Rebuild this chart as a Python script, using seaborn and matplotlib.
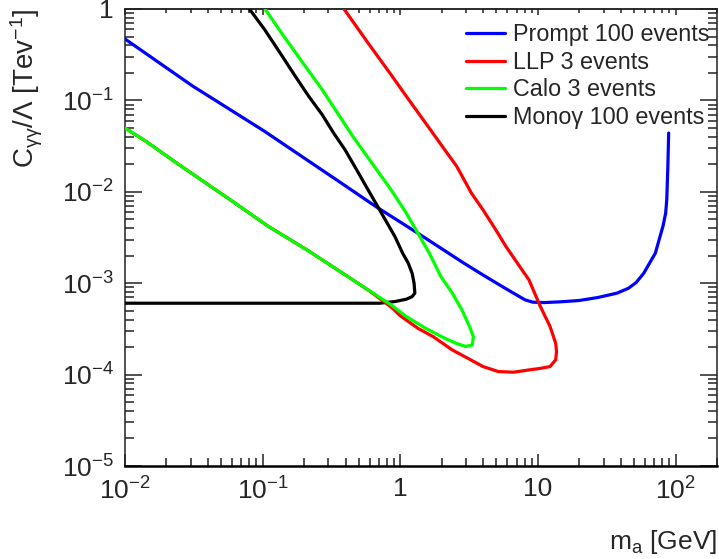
import numpy as np
import pandas as pd
import matplotlib
matplotlib.use("Agg")
import matplotlib.pyplot as plt
import seaborn as sns
from matplotlib.lines import Line2D
from matplotlib.ticker import FixedLocator, NullFormatter, FixedFormatter

sns.set_theme(style="ticks")
plt.rcParams["font.family"] = ["Liberation Sans", "DejaVu Sans"]
plt.rcParams["mathtext.fontset"] = "custom"
plt.rcParams["mathtext.rm"] = "Liberation Sans"
plt.rcParams["mathtext.it"] = "Liberation Sans:italic"
plt.rcParams["mathtext.bf"] = "Liberation Sans:bold"
plt.rcParams["mathtext.default"] = "regular"

# ---------------- data ----------------
prompt_mass = [0.01, 0.0307, 0.1035, 0.373, 0.664, 1.343, 2.90, 3.99, 5.50, 6.65, 8.07, 9.17,
               11.1, 14.4, 19.8, 27.2, 37.5, 45.5, 51.7, 58.7, 64.7, 71.3, 75.9, 80.9, 84.7,
               86.3, 87.9, 89.1]
prompt_c = [0.47, 0.145, 0.0458, 0.01245, 0.0069, 0.00352, 0.001656, 0.00123, 0.00092,
            0.000778, 0.000657, 0.00062, 0.000614, 0.000625, 0.000646, 0.000697, 0.000778,
            0.000881, 0.001016, 0.001285, 0.001656, 0.00213, 0.00298, 0.00417, 0.00583,
            0.00817, 0.0189, 0.0439]

llp_mass = [0.39, 0.583, 0.857, 1.107, 1.528, 2.104, 2.57, 3.289, 3.990, 4.831, 5.861, 7.096,
            8.610, 10.42, 12.25, 13.46, 13.65, 13.46, 12.25, 10.42, 8.61, 6.65, 5.15, 3.99, 3.09,
            2.388, 1.734, 1.343, 1.0, 0.857, 0.583, 0.350, 0.2094, 0.1104, 0.0582, 0.02377,
            0.01422, 0.01]
llp_c = [1.0, 0.425, 0.191, 0.1107, 0.0565, 0.0288, 0.019, 0.00966, 0.00635, 0.00405, 0.00252,
         0.001656, 0.001086, 0.000556, 0.000336, 0.00022, 0.000179, 0.000145, 0.0001225,
         0.000117, 0.0001125, 0.0001062, 0.000108, 0.0001225, 0.000151, 0.000186, 0.00026,
         0.000321, 0.00044, 0.00055, 0.000845, 0.0014, 0.00232, 0.00417, 0.00817, 0.0206,
         0.0356, 0.0498]

calo_mass = [0.104, 0.1426, 0.1963, 0.271, 0.350, 0.452, 0.622, 0.857, 1.107, 1.343, 1.626,
             1.972, 2.388, 2.805, 3.184, 3.396, 3.334, 2.992, 2.547, 2.104, 1.528, 1.107, 0.857,
             0.583, 0.350, 0.2094, 0.1104, 0.0582, 0.02377, 0.01422, 0.01]
calo_c = [1.0, 0.502, 0.2564, 0.131, 0.0726, 0.0404, 0.0206, 0.01052, 0.00583, 0.00352, 0.00213,
          0.001183, 0.000778, 0.00051, 0.000336, 0.00026, 0.000211, 0.000203, 0.00022, 0.00025,
          0.000321, 0.000431, 0.00058, 0.000845, 0.0014, 0.00232, 0.00417, 0.00817, 0.0206,
          0.0356, 0.0498]

mono_mass = [0.0802, 0.1035, 0.134, 0.173, 0.2163, 0.271, 0.328, 0.397, 0.482, 0.583, 0.6855,
             0.8035, 0.914, 1.04, 1.143, 1.219, 1.259, 1.276, 1.219, 1.107, 0.914, 0.708, 0.01]
mono_c = [1.0, 0.594, 0.33, 0.183, 0.1107, 0.0697, 0.0439, 0.0288, 0.0174, 0.01052, 0.0069,
          0.00454, 0.00324, 0.00213, 0.001656, 0.001285, 0.001, 0.000778, 0.000714, 0.000668,
          0.00063, 0.000604, 0.000604]

series_names = ["Prompt 100 events", "LLP 3 events", "Calo 3 events", "Mono\u03b3 100 events"]
series_colors = ["#0000ff", "#ff0000", "#00ff00", "#000000"]
x_tick_values = [0.01, 0.1, 1, 10, 100]
x_tick_labels = [r"$10^{-2}$", r"$10^{-1}$", "1", "10", r"$10^{2}$"]
y_tick_values = [1e-5, 1e-4, 1e-3, 1e-2, 1e-1, 1]
y_tick_labels = [r"$10^{-5}$", r"$10^{-4}$", r"$10^{-3}$", r"$10^{-2}$", r"$10^{-1}$", "1"]

frames = []
for name, m, c in zip(series_names,
                      [prompt_mass, llp_mass, calo_mass, mono_mass],
                      [prompt_c, llp_c, calo_c, mono_c]):
    frames.append(pd.DataFrame({"mass": m, "coupling": c, "series": name,
                                "idx": np.arange(len(m))}))
df = pd.concat(frames, ignore_index=True)

# ---------------- figure ----------------
W, H = 719, 559
fig = plt.figure(figsize=(W / 100, H / 100), dpi=100)
L, R, T, B = 125, 717, 9, 466
ax = fig.add_axes([L / W, 1 - B / H, (R - L) / W, (B - T) / H])
ax.set_xscale("log")
ax.set_yscale("log")

lw = 2.3
draw_order = [0, 3, 1, 2]
for i in draw_order:
    name = series_names[i]
    sub = df[df["series"] == name]
    sns.lineplot(data=sub, x="mass", y="coupling", sort=False, estimator=None,
                 color=series_colors[i], linewidth=lw, ax=ax, legend=False,
                 solid_joinstyle="round", zorder=3 + draw_order.index(i))

ax.set_xlim(0.01, 200)
ax.set_ylim(1e-5, 1)

# ticks
minor_x = [k * 10.0 ** e for e in range(-2, 3) for k in range(2, 10) if k * 10.0 ** e <= 200]
minor_y = [k * 10.0 ** e for e in range(-5, 0) for k in range(2, 10)]
ax.xaxis.set_major_locator(FixedLocator(x_tick_values))
ax.xaxis.set_major_formatter(FixedFormatter(x_tick_labels))
ax.xaxis.set_minor_locator(FixedLocator(minor_x))
ax.xaxis.set_minor_formatter(NullFormatter())
ax.yaxis.set_major_locator(FixedLocator(y_tick_values))
ax.yaxis.set_major_formatter(FixedFormatter(y_tick_labels))
ax.yaxis.set_minor_locator(FixedLocator(minor_y))
ax.yaxis.set_minor_formatter(NullFormatter())

fs_tick = 19
ax.tick_params(axis="x", which="major", direction="in", length=9, width=1.1,
               bottom=True, top=False, labelsize=fs_tick, pad=8, color="#222222")
ax.tick_params(axis="x", which="minor", direction="in", length=5.5, width=1.1,
               bottom=True, top=False, color="#222222")
ax.tick_params(axis="y", which="major", direction="in", length=12, width=1.1,
               left=True, right=True, labelsize=fs_tick, pad=8, color="#222222")
ax.tick_params(axis="y", which="minor", direction="in", length=6.5, width=1.1,
               left=True, right=True, color="#222222")

top = ax.secondary_xaxis("top")
top.xaxis.set_major_locator(FixedLocator(x_tick_values))
top.xaxis.set_minor_locator(FixedLocator(minor_x))
top.xaxis.set_major_formatter(NullFormatter())
top.xaxis.set_minor_formatter(NullFormatter())
top.tick_params(axis="x", which="major", direction="in", length=4.5, width=1.1, color="#222222")
top.tick_params(axis="x", which="minor", direction="in", length=3, width=1.1, color="#222222")
top.spines["top"].set_linewidth(1.1)

for s in ["left", "right", "top"]:
    ax.spines[s].set_linewidth(1.1)
    ax.spines[s].set_color("#222222")
ax.spines["bottom"].set_linewidth(1.8)
ax.spines["bottom"].set_color("black")

ax.set_xlabel(r"m$_{a}$ [GeV]", fontsize=19, loc="right")
ax.xaxis.set_label_coords(1.0, -0.135)
ax.set_ylabel(r"C$_{\gamma\gamma}$/$\Lambda$ [Tev$^{-1}$]", fontsize=20, loc="top")
ax.yaxis.set_label_coords(-0.135, 1.0)

handles = [Line2D([0], [0], color=c, lw=lw) for c in series_colors]
leg = fig.legend(handles, series_names, loc="upper left",
                 bbox_to_anchor=(466 / W, 1 - 23 / H), frameon=False,
                 fontsize=16.8, handlelength=1.65, handletextpad=0.35,
                 labelspacing=0.2, borderpad=0, borderaxespad=0)

fig.savefig("out.png", dpi=100)
